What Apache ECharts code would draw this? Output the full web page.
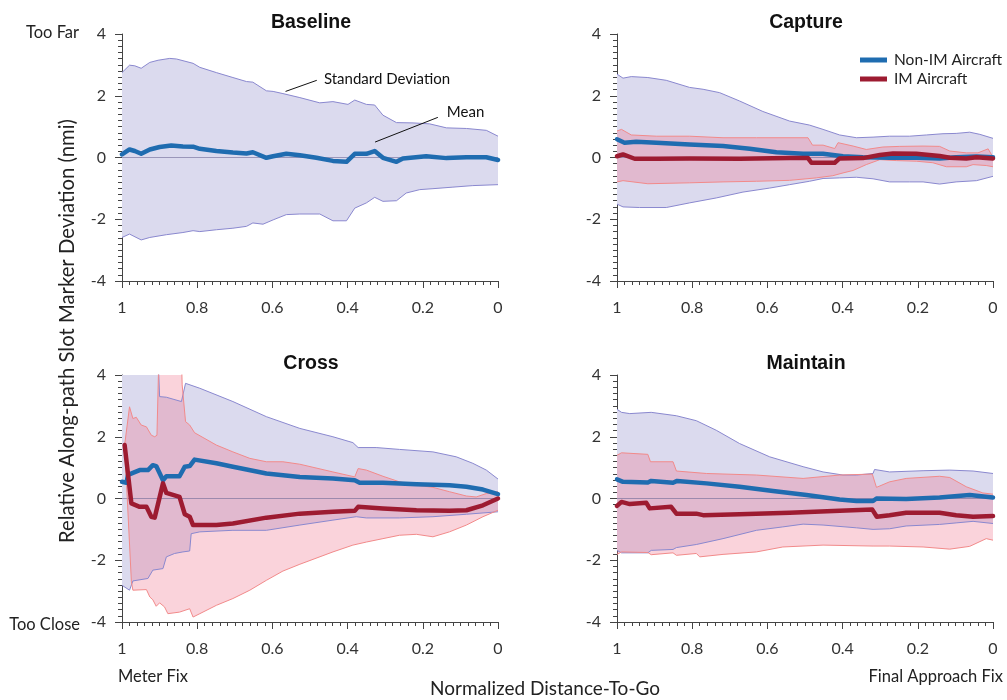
<!DOCTYPE html>
<html><head><meta charset="utf-8">
<script src="https://cdn.jsdelivr.net/npm/echarts@6/dist/echarts.min.js"></script>
<style>html,body{margin:0;padding:0;background:#fff}#c{width:1007px;height:700px}</style>
</head><body><div id="c"></div>
<script>
// ---------- DATA (x = normalized distance-to-go, y = deviation nmi) ----------
const panelTitles = ['Baseline', 'Capture', 'Cross', 'Maintain'];
const xTicks = [0, 0.2, 0.4, 0.6, 0.8, 1];
const yTicks = [-4, -2, 0, 2, 4];
const seriesNames = ['Non-IM Aircraft', 'IM Aircraft'];

// Baseline (non-IM only)
const baselineUpper = [[1.000,2.75],[0.980,2.99],[0.966,2.97],[0.949,2.89],[0.926,3.08],[0.904,3.15],[0.873,3.21],[0.855,3.19],[0.811,3.05],[0.793,2.92],[0.749,2.75],[0.705,2.59],[0.669,2.46],[0.652,2.44],[0.616,2.16],[0.598,2.14],[0.572,2.07],[0.527,1.94],[0.474,1.77],[0.439,1.81],[0.399,1.72],[0.381,1.86],[0.350,1.72],[0.328,1.70],[0.306,1.37],[0.270,1.13],[0.226,1.12],[0.182,1.09],[0.137,0.96],[0.084,0.94],[0.031,0.88],[0.000,0.69]];
const baselineLower = [[1.000,-2.59],[0.980,-2.48],[0.949,-2.67],[0.926,-2.59],[0.882,-2.50],[0.838,-2.43],[0.811,-2.37],[0.793,-2.40],[0.749,-2.34],[0.705,-2.29],[0.669,-2.23],[0.652,-2.12],[0.625,-2.16],[0.598,-2.02],[0.563,-1.85],[0.527,-1.83],[0.474,-1.83],[0.439,-2.05],[0.403,-2.05],[0.381,-1.64],[0.350,-1.47],[0.328,-1.29],[0.306,-1.42],[0.270,-1.40],[0.244,-1.15],[0.208,-1.04],[0.173,-1.01],[0.120,-0.96],[0.067,-0.91],[0.000,-0.88]];
const baselineMean = [[1.000,0.10],[0.980,0.26],[0.966,0.21],[0.949,0.12],[0.926,0.26],[0.900,0.34],[0.869,0.39],[0.838,0.36],[0.811,0.35],[0.793,0.28],[0.749,0.21],[0.705,0.16],[0.669,0.13],[0.652,0.17],[0.616,-0.01],[0.598,0.04],[0.563,0.12],[0.527,0.07],[0.483,-0.01],[0.439,-0.11],[0.403,-0.14],[0.381,0.12],[0.350,0.12],[0.328,0.21],[0.306,-0.01],[0.270,-0.14],[0.253,-0.03],[0.191,0.04],[0.137,-0.02],[0.084,0.01],[0.031,0.01],[0.000,-0.08]];

// Capture
const captureBlueUpper = [[1.000,2.70],[0.984,2.57],[0.962,2.62],[0.918,2.59],[0.869,2.50],[0.807,2.27],[0.771,2.21],[0.727,2.10],[0.674,1.83],[0.612,1.49],[0.541,1.18],[0.488,1.05],[0.452,0.91],[0.408,0.73],[0.363,0.64],[0.319,0.66],[0.275,0.69],[0.222,0.69],[0.177,0.73],[0.133,0.77],[0.098,0.78],[0.062,0.82],[0.035,0.75],[0.000,0.62]];
const captureBlueLower = [[1.000,-1.51],[0.984,-1.60],[0.940,-1.62],[0.869,-1.62],[0.807,-1.47],[0.736,-1.31],[0.665,-1.12],[0.594,-0.99],[0.541,-0.88],[0.488,-0.77],[0.452,-0.68],[0.408,-0.66],[0.363,-0.64],[0.319,-0.69],[0.275,-0.79],[0.222,-0.79],[0.186,-0.79],[0.142,-0.86],[0.098,-0.79],[0.044,-0.75],[0.000,-0.61]];
const captureRedUpper = [[1.000,0.86],[0.988,0.91],[0.962,0.73],[0.895,0.69],[0.807,0.69],[0.718,0.64],[0.629,0.64],[0.492,0.64],[0.480,0.40],[0.452,0.40],[0.421,0.29],[0.412,0.48],[0.372,0.37],[0.337,0.26],[0.293,0.34],[0.248,0.36],[0.186,0.37],[0.142,0.36],[0.115,0.21],[0.071,0.15],[0.040,0.15],[0.013,0.28],[0.000,0.01]];
const captureRedLower = [[1.000,-0.79],[0.984,-0.75],[0.918,-0.85],[0.807,-0.82],[0.718,-0.79],[0.629,-0.77],[0.541,-0.74],[0.470,-0.66],[0.426,-0.59],[0.399,-0.50],[0.372,-0.42],[0.337,-0.23],[0.301,-0.07],[0.257,-0.10],[0.204,-0.12],[0.160,-0.17],[0.124,-0.30],[0.071,-0.30],[0.053,-0.23],[0.018,-0.26],[0.000,-0.30]];
const captureBlueMean = [[1.000,0.59],[0.980,0.48],[0.949,0.51],[0.895,0.48],[0.807,0.42],[0.718,0.37],[0.647,0.28],[0.576,0.17],[0.505,0.12],[0.452,0.12],[0.399,0.04],[0.346,0.01],[0.275,-0.01],[0.204,-0.01],[0.142,-0.03],[0.098,0.01],[0.044,0.03],[0.000,0.01]];
const captureRedMean = [[1.000,0.04],[0.984,0.10],[0.953,-0.04],[0.895,-0.04],[0.807,-0.03],[0.674,-0.04],[0.541,-0.02],[0.492,-0.02],[0.483,-0.17],[0.421,-0.17],[0.408,-0.03],[0.346,-0.02],[0.301,0.08],[0.266,0.13],[0.204,0.12],[0.142,0.05],[0.115,-0.01],[0.071,-0.03],[0.044,0.01],[0.000,-0.03]];

// Cross
const crossBlueUpper = [[1.000,4.60],[0.904,4.60],[0.900,3.30],[0.882,3.28],[0.842,3.14],[0.831,3.73],[0.793,3.57],[0.705,3.14],[0.616,2.65],[0.527,2.27],[0.439,2.00],[0.386,1.81],[0.372,1.65],[0.324,1.65],[0.262,1.59],[0.173,1.51],[0.111,1.35],[0.067,1.14],[0.031,0.92],[0.000,0.63]];
const crossBlueLower = [[1.000,-2.81],[0.980,-2.97],[0.971,-2.67],[0.931,-2.59],[0.918,-2.32],[0.891,-2.27],[0.882,-1.89],[0.860,-1.78],[0.838,-1.73],[0.820,-1.70],[0.816,-1.14],[0.793,-1.08],[0.705,-1.03],[0.616,-1.03],[0.527,-0.86],[0.439,-0.70],[0.377,-0.59],[0.350,-0.63],[0.262,-0.63],[0.173,-0.59],[0.084,-0.51],[0.000,-0.43]];
const crossRedUpper = [[0.993,1.73],[0.980,2.97],[0.971,2.59],[0.962,2.63],[0.949,2.38],[0.935,2.32],[0.922,2.05],[0.913,2.00],[0.907,2.05],[0.902,4.60],[0.842,4.60],[0.840,3.68],[0.831,2.49],[0.820,2.38],[0.807,2.13],[0.749,1.73],[0.705,1.51],[0.660,1.30],[0.616,1.19],[0.572,1.19],[0.527,1.11],[0.439,0.86],[0.381,0.70],[0.372,0.97],[0.350,0.92],[0.306,0.72],[0.262,0.54],[0.217,0.43],[0.173,0.36],[0.129,0.22],[0.084,0.08],[0.058,0.05],[0.031,0.16],[0.000,0.22]];
const crossRedLower = [[0.993,1.73],[0.975,-2.70],[0.971,-2.97],[0.935,-2.95],[0.926,-3.19],[0.918,-3.28],[0.909,-3.49],[0.900,-3.38],[0.887,-3.51],[0.878,-3.73],[0.847,-3.68],[0.820,-3.57],[0.811,-3.84],[0.793,-3.73],[0.749,-3.46],[0.705,-3.24],[0.660,-2.97],[0.616,-2.65],[0.572,-2.35],[0.527,-2.13],[0.439,-1.73],[0.386,-1.51],[0.350,-1.41],[0.306,-1.30],[0.262,-1.19],[0.217,-1.16],[0.173,-1.24],[0.129,-1.08],[0.084,-0.86],[0.040,-0.59],[0.000,-0.38]];
const crossBlueMean = [[1.000,0.54],[0.988,0.51],[0.984,0.76],[0.971,0.83],[0.953,0.92],[0.931,0.92],[0.918,1.08],[0.909,1.05],[0.891,0.59],[0.882,0.72],[0.847,0.72],[0.833,1.03],[0.820,1.05],[0.807,1.26],[0.749,1.14],[0.705,1.03],[0.616,0.81],[0.527,0.70],[0.439,0.65],[0.381,0.59],[0.368,0.51],[0.306,0.51],[0.217,0.46],[0.129,0.43],[0.084,0.38],[0.040,0.29],[0.000,0.14]];
const crossRedMean = [[0.993,1.73],[0.975,-0.16],[0.953,-0.27],[0.935,-0.27],[0.922,-0.59],[0.913,-0.62],[0.891,0.49],[0.882,0.18],[0.847,0.05],[0.833,-0.51],[0.820,-0.59],[0.811,-0.86],[0.749,-0.86],[0.705,-0.81],[0.616,-0.62],[0.527,-0.49],[0.439,-0.43],[0.381,-0.40],[0.372,-0.27],[0.306,-0.32],[0.217,-0.38],[0.129,-0.40],[0.084,-0.38],[0.040,-0.22],[0.000,0.00]];

// Maintain
const maintainBlueUpper = [[1.000,2.89],[0.988,2.79],[0.966,2.75],[0.909,2.79],[0.842,2.68],[0.789,2.52],[0.736,2.21],[0.674,1.78],[0.594,1.35],[0.505,1.03],[0.452,0.86],[0.399,0.76],[0.363,0.76],[0.319,0.81],[0.315,0.94],[0.275,0.86],[0.186,0.90],[0.115,0.92],[0.053,0.89],[0.000,0.81]];
const maintainBlueLower = [[1.000,-1.68],[0.988,-1.76],[0.918,-1.76],[0.909,-1.68],[0.851,-1.65],[0.842,-1.59],[0.789,-1.49],[0.718,-1.30],[0.629,-1.03],[0.559,-0.92],[0.505,-0.83],[0.452,-0.86],[0.363,-0.95],[0.319,-1.00],[0.275,-0.98],[0.231,-0.89],[0.142,-0.84],[0.098,-0.79],[0.053,-0.74],[0.000,-0.81]];
const maintainRedUpper = [[1.000,1.40],[0.988,1.48],[0.918,1.43],[0.911,1.19],[0.851,1.19],[0.842,0.89],[0.762,0.81],[0.629,0.76],[0.505,0.65],[0.408,0.76],[0.321,0.79],[0.310,0.36],[0.275,0.54],[0.231,0.65],[0.142,0.72],[0.115,0.68],[0.071,0.38],[0.027,0.18],[0.000,0.14]];
const maintainRedLower = [[1.000,-1.81],[0.988,-1.73],[0.918,-1.75],[0.909,-1.82],[0.851,-1.76],[0.842,-1.84],[0.789,-1.78],[0.780,-1.89],[0.718,-1.81],[0.629,-1.73],[0.559,-1.57],[0.452,-1.51],[0.319,-1.54],[0.275,-1.54],[0.186,-1.57],[0.115,-1.64],[0.062,-1.55],[0.018,-1.30],[0.000,-1.35]];
const maintainBlueMean = [[1.000,0.62],[0.984,0.54],[0.918,0.52],[0.909,0.57],[0.851,0.51],[0.840,0.57],[0.762,0.49],[0.674,0.38],[0.585,0.24],[0.496,0.11],[0.408,-0.03],[0.363,-0.08],[0.319,-0.08],[0.310,0.00],[0.231,-0.02],[0.142,0.03],[0.062,0.11],[0.000,0.03]];
const maintainRedMean = [[1.000,-0.24],[0.988,-0.11],[0.966,-0.18],[0.922,-0.14],[0.913,-0.32],[0.856,-0.27],[0.842,-0.49],[0.789,-0.49],[0.771,-0.54],[0.674,-0.51],[0.541,-0.46],[0.408,-0.40],[0.321,-0.36],[0.309,-0.59],[0.275,-0.54],[0.231,-0.46],[0.142,-0.46],[0.098,-0.54],[0.053,-0.59],[0.000,-0.57]];

// ---------- STYLE ----------
const FONT = 'Lato';
const BLUE = '#1f6cb0', RED = '#9d1b31';
const BLUE_EDGE = '#8a88cf', BLUE_FILL = '#dbdaee';
const RED_EDGE = '#f28a8a', RED_FILL = 'rgba(240,110,135,0.30)';

const panels = [
  {blue:{up:baselineUpper, lo:baselineLower, mean:baselineMean}},
  {blue:{up:captureBlueUpper, lo:captureBlueLower, mean:captureBlueMean}, red:{up:captureRedUpper, lo:captureRedLower, mean:captureRedMean}},
  {blue:{up:crossBlueUpper, lo:crossBlueLower, mean:crossBlueMean}, red:{up:crossRedUpper, lo:crossRedLower, mean:crossRedMean}},
  {blue:{up:maintainBlueUpper, lo:maintainBlueLower, mean:maintainBlueMean}, red:{up:maintainRedUpper, lo:maintainRedLower, mean:maintainRedMean}}
];
const gridPos = [
  {left:122, top:34, width:376, height:247},
  {left:617, top:34, width:376, height:247},
  {left:122, top:375, width:376, height:247},
  {left:617, top:375, width:376, height:247}
];

const grids = [], xAxes = [], yAxes = [], series = [], titles = [];
const axisCol = '#444';
gridPos.forEach((g, i) => {
  grids.push(Object.assign({containLabel:false}, g));
  titles.push({text: panelTitles[i], left: g.left + g.width/2 - 4, top: g.top - 26, textAlign:'center',
    textStyle:{fontFamily:'Liberation Sans', fontWeight:'bold', fontSize:19.5, color:'#111'}});
  xAxes.push({type:'value', gridIndex:i, min:xTicks[0], max:xTicks[xTicks.length-1], interval:0.2, inverse:true,
    axisLine:{show:true, onZero:false, lineStyle:{color:axisCol, width:1}},
    axisTick:{show:true, inside:false, length:7, lineStyle:{color:axisCol}},
    minorTick:{show:true, splitNumber:10, length:4, lineStyle:{color:axisCol}},
    splitLine:{show:false},
    axisLabel:{margin:19, fontFamily:FONT, fontSize:16, color:'#333', formatter:v=>String(+v.toFixed(1))}});
  yAxes.push({type:'value', gridIndex:i, min:yTicks[0], max:yTicks[yTicks.length-1], interval:2,
    axisLine:{show:true, onZero:false, lineStyle:{color:axisCol, width:1}},
    axisTick:{show:true, inside:false, length:7, lineStyle:{color:axisCol}},
    minorTick:{show:true, splitNumber:10, length:4, lineStyle:{color:axisCol}},
    splitLine:{show:false},
    axisLabel:{margin:16, fontFamily:FONT, fontSize:16, color:'#333'}});
});

function band(i, up, lo, fill, z) {
  return {type:'custom', xAxisIndex:i, yAxisIndex:i, clip:true, z:z, silent:true,
    data:[[0.5, 0]],
    renderItem:(params, api) => {
      const pts = up.map(p => api.coord(p)).concat(lo.slice().reverse().map(p => api.coord(p)));
      return {type:'polygon', shape:{points:pts}, style:{fill:fill, stroke:null}};
    }};
}
function edge(i, data, color, z) {
  return {type:'line', xAxisIndex:i, yAxisIndex:i, data:data, symbol:'none', z:z, silent:true,
    lineStyle:{color:color, width:1}};
}
function mean(i, name, data, color, z) {
  return {type:'line', name:name, xAxisIndex:i, yAxisIndex:i, data:data, symbol:'none', z:z,
    itemStyle:{color:color}, lineStyle:{color:color, width:4.5, cap:'round', join:'round'}};
}

panels.forEach((p, i) => {
  series.push(band(i, p.blue.up, p.blue.lo, BLUE_FILL, 1));
  if (p.red) series.push(band(i, p.red.up, p.red.lo, RED_FILL, 2));
  // zero reference line
  series.push({type:'line', xAxisIndex:i, yAxisIndex:i, data:[], z:3, silent:true,
    markLine:{silent:true, symbol:'none', label:{show:false}, lineStyle:{color:'rgba(110,105,150,0.6)', width:1, type:'solid'},
      data:[{yAxis:0}]}});
  series.push(edge(i, p.blue.up, BLUE_EDGE, 4));
  series.push(edge(i, p.blue.lo, BLUE_EDGE, 4));
  if (p.red) {
    series.push(edge(i, p.red.up, RED_EDGE, 5));
    series.push(edge(i, p.red.lo, RED_EDGE, 5));
  }
  series.push(mean(i, seriesNames[0], p.blue.mean, BLUE, 6));
  if (p.red) series.push(mean(i, seriesNames[1], p.red.mean, RED, 7));
});

// annotations on Baseline panel
series.push({type:'line', xAxisIndex:0, yAxisIndex:0, data:[], z:8, silent:true,
  markLine:{silent:true, symbol:'none', label:{show:false}, lineStyle:{color:'#111', width:1, type:'solid'},
    data:[[{coord:[0.565,2.14]},{coord:[0.482,2.50]}], [{coord:[0.327,0.50]},{coord:[0.160,1.30]}]]},
  markPoint:{silent:true, symbol:'circle', symbolSize:0,
    label:{show:true, position:'right', distance:0, fontFamily:FONT, fontSize:15, color:'#111'},
    data:[{coord:[0.463,2.53], value:'Standard Deviation'}, {coord:[0.136,1.47], value:'Mean'}]}});

const chart = echarts.init(document.getElementById('c'), null, {renderer:'canvas'});
chart.setOption({
  animation:false,
  backgroundColor:'#fff',
  title: titles,
  grid: grids, xAxis: xAxes, yAxis: yAxes, series: series,
  legend:{data:seriesNames, left:855, top:47, orient:'vertical', itemWidth:27, itemHeight:5, itemGap:3, icon:'rect',
    textStyle:{fontFamily:FONT, fontSize:15.5, color:'#222', padding:[0,0,0,2]}},
  graphic:[
    {type:'text', x:67, y:331, rotation:Math.PI/2, style:{text:'Relative Along-path Slot Marker Deviation (nmi)', fontFamily:FONT, fontSize:20.3, fill:'#222', textAlign:'center', textVerticalAlign:'middle'}},
    {type:'text', x:79, y:33, style:{text:'Too Far', fontFamily:FONT, fontSize:16.5, fill:'#222', textAlign:'right', textVerticalAlign:'middle'}},
    {type:'text', x:80, y:625, style:{text:'Too Close', fontFamily:FONT, fontSize:16.5, fill:'#222', textAlign:'right', textVerticalAlign:'middle'}},
    {type:'text', x:118, y:677, style:{text:'Meter Fix', fontFamily:FONT, fontSize:16.5, fill:'#222', textAlign:'left', textVerticalAlign:'middle'}},
    {type:'text', x:1003, y:677, style:{text:'Final Approach Fix', fontFamily:FONT, fontSize:16.5, fill:'#222', textAlign:'right', textVerticalAlign:'middle'}},
    {type:'text', x:545, y:689, style:{text:'Normalized Distance-To-Go', fontFamily:FONT, fontSize:19, fill:'#222', textAlign:'center', textVerticalAlign:'middle'}}
  ]
});
</script>
</body></html>
